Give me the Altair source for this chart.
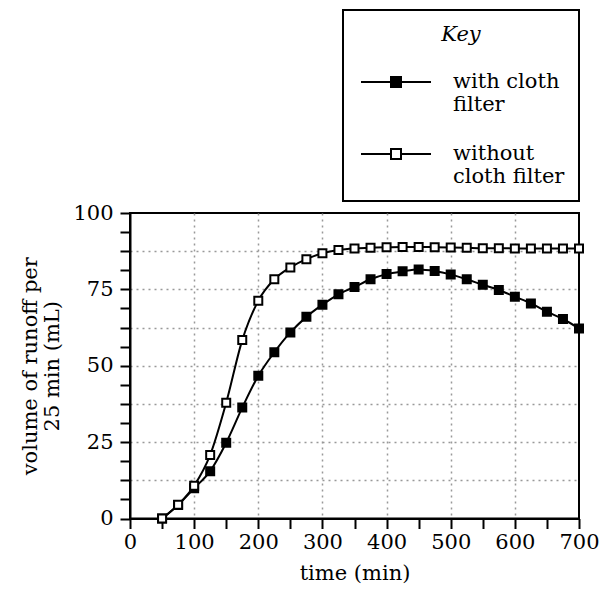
import altair as alt
import pandas as pd

time_min = [50, 75, 100, 125, 150, 175, 200, 225, 250, 275, 300, 325, 350, 375,
            400, 425, 450, 475, 500, 525, 550, 575, 600, 625, 650, 675, 700]
with_filter = [0, 4.4, 9.9, 15.5, 24.8, 36.3, 46.7, 54.4, 60.9, 66.0, 70.0, 73.4,
               75.8, 78.3, 80.0, 80.9, 81.5, 81.0, 79.9, 78.3, 76.5, 74.8, 72.6,
               70.4, 67.7, 65.3, 62.2]
without_filter = [0, 4.5, 10.7, 20.8, 37.9, 58.4, 71.3, 78.3, 82.2, 84.9, 86.8, 87.9,
                  88.4, 88.6, 88.8, 88.9, 88.9, 88.8, 88.7, 88.6, 88.5, 88.5, 88.4,
                  88.4, 88.4, 88.4, 88.4]
series_names = ["with cloth filter", "without cloth filter"]
x_ticks = list(range(0, 701, 50))
y_ticks = [i * 6.25 for i in range(17)]

df = pd.DataFrame({
    "time": time_min * 2,
    "volume": with_filter + without_filter,
    "series": [series_names[0]] * len(time_min) + [series_names[1]] * len(time_min),
})

FONT = "DejaVu Serif"
FS = 21

x_enc = alt.X(
    "time:Q",
    scale=alt.Scale(domain=[0, 700], nice=False),
    axis=alt.Axis(
        values=x_ticks,
        labelExpr="datum.value % 100 === 0 ? datum.label : ''",
        labelFlush=False,
        title="time (min)",
        gridOpacity={"condition": {"test": "datum.value % 100 === 0 && datum.value > 0 && datum.value < 700", "value": 1}, "value": 0},
    ),
)
y_enc = alt.Y(
    "volume:Q",
    scale=alt.Scale(domain=[0, 100], nice=False),
    axis=alt.Axis(
        values=y_ticks,
        labelExpr="datum.value % 25 === 0 ? datum.label : ''",
        labelFlush=False,
        title=["volume of runoff per", "25 min (mL)"],
        gridOpacity={"condition": {"test": "datum.value % 12.5 === 0 && datum.value > 0 && datum.value < 100", "value": 1}, "value": 0},
    ),
)

lines = alt.Chart(df).mark_line(color="black", strokeWidth=2, interpolate="monotone").encode(
    x=x_enc, y=y_enc, detail="series:N"
)

legend_path = "M-3.5,0H-0.5M0.5,0H3.5M-0.5,-0.5H0.5V0.5H-0.5Z"

points = alt.Chart(df).mark_point(
    shape="square", filled=True, stroke="black", strokeWidth=2, size=64, opacity=1
).encode(
    x=x_enc,
    y=y_enc,
    fill=alt.Fill(
        "series:N",
        scale=alt.Scale(domain=series_names, range=["black", "white"]),
        legend=alt.Legend(
            title="Key",
            orient="none",
            legendX=213,
            legendY=-203,
            symbolType=legend_path,
            symbolSize=400,
            symbolStrokeColor="black",
            symbolStrokeWidth=2,
            symbolOffset=28,
            labelExpr="datum.label == 'with cloth filter' ? ['with cloth', 'filter'] : ['without', 'cloth filter']",
        ),
    ),
)

chart = alt.layer(lines, points).properties(
    width=449,
    height=305.5,
    autosize=alt.AutoSizeParams(type="none"),
    padding={"left": 122, "top": 205, "right": 21, "bottom": 66},
).configure(
    font=FONT
).configure_view(
    stroke="black", strokeWidth=2
).configure_axis(
    labelFont=FONT, labelFontSize=FS, labelColor="black",
    titleFont=FONT, titleFontSize=FS, titleFontWeight="normal", titleColor="black",
    domainColor="black", domainWidth=2,
    tickColor="black", tickWidth=2, tickSize=10,
    gridColor="#999999", gridDash=[2, 4], gridWidth=1.5,
).configure_axisX(
    labelPadding=3, titlePadding=10,
).configure_axisY(
    labelPadding=7, titlePadding=10, titleLineHeight=22,
).configure_legend(
    strokeColor="black", strokeWidth=2, padding=14,
    titleFont=FONT, titleFontSize=FS, titleFontStyle="italic", titleFontWeight="normal",
    titleColor="black", titleAnchor="middle", titlePadding=26,
    labelFont=FONT, labelFontSize=FS, labelColor="black", labelOffset=46, labelLimit=300,
    rowPadding=28, fillColor="white",
)

chart.save("out.html", embed_options={"renderer": "svg", "actions": False})
